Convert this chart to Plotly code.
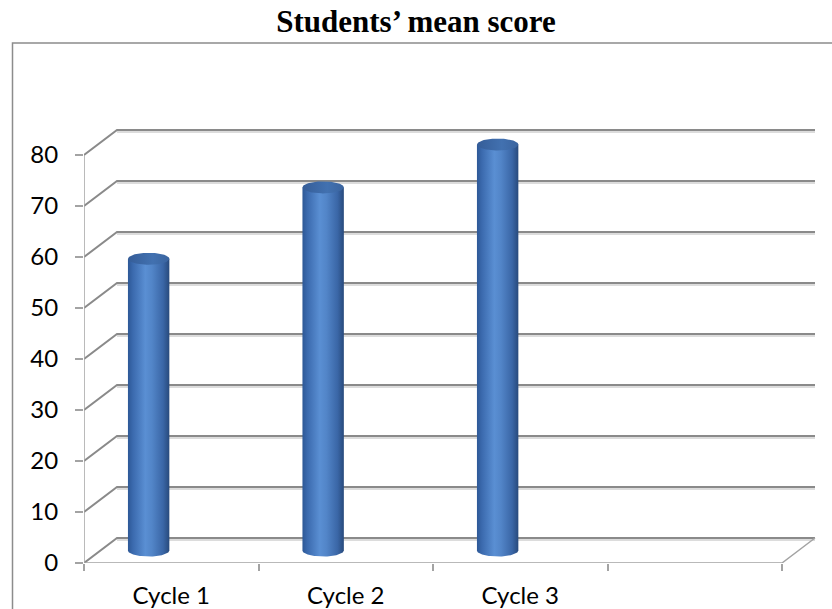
import numpy as np
import plotly.graph_objects as go

# ---- data -------------------------------------------------------------
categories = ["Cycle 1", "Cycle 2", "Cycle 3", ""]
mean_scores = [57.2, 71.2, 79.6]
y_ticks = [0, 10, 20, 30, 40, 50, 60, 70, 80]
chart_title = "Students’ mean score"

# ---- page / plot-area geometry (pixels) -------------------------------
W, H = 832, 609
L, R, T, B = 84, 8, 43, 46
plot_w = W - L - R
plot_h = H - T - B
n_cat = len(categories)
px_per_x = 698 / n_cat             # pixels per category
px_per_y = 5.1                     # pixels per score point
x_range = [-0.5, -0.5 + plot_w / px_per_x]
y_range = [0, plot_h / px_per_y]
x0, x1 = -0.5, n_cat - 0.5         # front floor edge

# oblique depth of the pseudo 3-D box, in data units
DX = 33 / px_per_x
DY = 25 / px_per_y

GRID = "#8a8a8a"
GRID_SHADOW = "#d0d0d0"
AXIS = "#a3a3a3"

fig = go.Figure()

# ---- back wall gridlines with their slanted side-wall segments --------
gx, gy, sx, sy = [], [], [], []
shadow = 2 / px_per_y
for v in y_ticks:
    gx += [x0, x0 + DX, x1 + DX, None]
    gy += [v, v + DY, v + DY, None]
    sx += [x0 + DX, x1 + DX, None]
    sy += [v + DY - shadow, v + DY - shadow, None]
fig.add_trace(go.Scatter(x=sx, y=sy, mode="lines",
                         line=dict(color=GRID_SHADOW, width=1.5),
                         hoverinfo="skip", showlegend=False))
fig.add_trace(go.Scatter(x=gx, y=gy, mode="lines",
                         line=dict(color=GRID, width=2),
                         hoverinfo="skip", showlegend=False))

# ---- front value axis, floor edge and right floor slant ---------------
fig.add_trace(go.Scatter(
    x=[x0, x0, None, x0, x1, x1 + DX],
    y=[y_ticks[-1], 0, None, 0, 0, DY],
    mode="lines", line=dict(color=AXIS, width=1.5),
    hoverinfo="skip", showlegend=False))

# ---- cylinders --------------------------------------------------------
BAR_SHIFT = -22.6 / px_per_x
HALF_W = 20.7 / px_per_x
ELL_H = 6 / px_per_y
BASE = DY / 2

side_scale = [[0.0, "#2d5896"], [0.12, "#3b6aae"], [0.42, "#5a8fd3"],
              [0.58, "#5285c8"], [0.85, "#3a66a6"], [1.0, "#284a7c"]]
top_scale = [[0.0, "#355d98"], [0.6, "#4271b0"], [1.0, "#3a649f"]]

t_low = np.linspace(np.pi, 2 * np.pi, 40)
t_all = np.linspace(0, 2 * np.pi, 80)
for i, v in enumerate(mean_scores):
    xc = i + BAR_SHIFT
    top = v + BASE
    side_x = list(xc + HALF_W * np.cos(t_low)) + [xc + HALF_W, xc - HALF_W]
    side_y = list(BASE + ELL_H * np.sin(t_low)) + [top, top]
    fig.add_trace(go.Scatter(
        x=side_x, y=side_y, mode="lines", line=dict(width=0),
        fill="toself",
        fillgradient=dict(type="horizontal", colorscale=side_scale),
        hoverinfo="skip", showlegend=False))
    fig.add_trace(go.Scatter(
        x=xc + HALF_W * np.cos(t_all), y=top + ELL_H * np.sin(t_all),
        mode="lines", line=dict(width=0), fill="toself",
        fillgradient=dict(type="horizontal", colorscale=top_scale),
        hoverinfo="skip", showlegend=False))

# ---- chart border (left and top edges visible) ------------------------
bx = (12.5 - L) / plot_w
fig.add_shape(type="path", xref="paper", yref="paper",
              path=f"M {bx},-0.5 L {bx},1 L 1.2,1",
              line=dict(color="#8c8c8c", width=1.5))

tick_font = dict(family="Lato, 'Open Sans', sans-serif", size=24, color="#000000")

fig.update_layout(
    width=W, height=H,
    margin=dict(l=L, r=R, t=T, b=B, autoexpand=False),
    paper_bgcolor="white", plot_bgcolor="white",
    title=dict(text=chart_title, x=(416 - L) / plot_w, xref="paper",
               xanchor="center",
               y=1 - 21 / H, yref="container", yanchor="middle",
               automargin=False,
               font=dict(family="'Liberation Serif', 'Times New Roman', serif",
                         size=31, color="#000000", weight="bold")),
    xaxis=dict(range=x_range, tickmode="array", automargin=False,
               tickvals=list(range(n_cat)), ticktext=categories,
               ticks="outside", ticklen=0, showgrid=False, zeroline=False,
               showline=False, tickfont=tick_font, ticklabelstandoff=11,
               minor=dict(tickmode="array",
                          tickvals=[k - 0.5 for k in range(n_cat + 1)],
                          ticks="outside", ticklen=7, tickwidth=1.5,
                          tickcolor=AXIS, showgrid=False),
               fixedrange=True),
    yaxis=dict(range=y_range, tickmode="array", tickvals=y_ticks,
               automargin=False,
               ticks="outside", ticklen=8, tickwidth=1.5, tickcolor=AXIS,
               showgrid=False, zeroline=False, showline=False,
               tickfont=tick_font, ticklabelstandoff=12, fixedrange=True),
    showlegend=False,
)

fig.write_html("out.html")
